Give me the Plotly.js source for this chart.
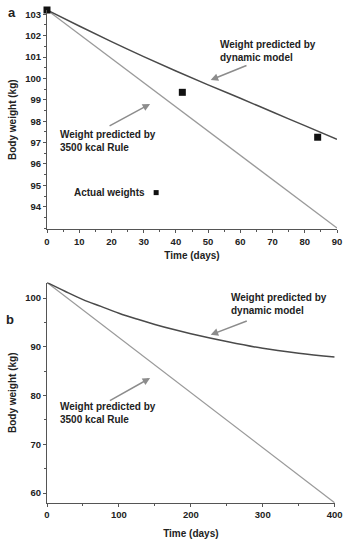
<!DOCTYPE html>
<html>
<head>
<meta charset="utf-8">
<script src="https://cdn.plot.ly/plotly-3.0.1.min.js"></script>
<style>html,body{margin:0;padding:0;background:#fff;}#chart{width:355px;height:543px;}</style>
</head>
<body>
<div id="chart"></div>
<script>
// Panel a (0-90 days)
const daysA = [0, 10, 20, 30, 40, 50, 60, 70, 80, 90];
const dynamicA = [103.2, 102.45, 101.72, 101.02, 100.35, 99.7, 99.07, 98.43, 97.79, 97.15];
const ruleDaysA = [0, 90];
const ruleA = [103.2, 93.0];
const actualDays = [0, 42, 84];
const actualWeights = [103.2, 99.35, 97.25];

// Panel b (0-400 days)
const daysB = [0, 25, 50, 75, 100, 125, 150, 175, 200, 250, 300, 350, 400];
const dynamicB = [103.2, 101.4, 99.7, 98.3, 96.9, 95.7, 94.6, 93.6, 92.7, 91.1, 89.7, 88.7, 87.9];
const ruleDaysB = [0, 400];
const ruleB = [103.2, 58.0];

const tickValsA = [94, 95, 96, 97, 98, 99, 100, 101, 102, 103];
const tickValsB = [60, 70, 80, 90, 100];

const FONT = 'Liberation Sans, Arial, sans-serif';
const TXT = '#222';
const DARK = '#4a4a4a';
const LIGHT = '#9a9a9a';
const ARROW = '#8c8c8c';

const traces = [
  {x: ruleDaysA, y: ruleA, mode: 'lines', line: {color: LIGHT, width: 1.3}, xaxis: 'x', yaxis: 'y', hoverinfo: 'skip'},
  {x: daysA, y: dynamicA, mode: 'lines', line: {color: DARK, width: 1.5, shape: 'spline'}, xaxis: 'x', yaxis: 'y', hoverinfo: 'skip'},
  {x: actualDays, y: actualWeights, mode: 'markers', marker: {symbol: 'square', color: '#111', size: 7}, xaxis: 'x', yaxis: 'y', cliponaxis: false},
  {x: ruleDaysB, y: ruleB, mode: 'lines', line: {color: LIGHT, width: 1.3}, xaxis: 'x2', yaxis: 'y2', hoverinfo: 'skip'},
  {x: daysB, y: dynamicB, mode: 'lines', line: {color: DARK, width: 1.5, shape: 'spline'}, xaxis: 'x2', yaxis: 'y2', hoverinfo: 'skip'}
];

const axisCommon = {
  showgrid: false, zeroline: false, showline: true, linecolor: '#555', linewidth: 1,
  ticks: 'outside', ticklen: 3, tickcolor: '#555', tickwidth: 1,
  tickfont: {family: FONT, size: 9.5, color: TXT, weight: 'bold'},
  fixedrange: true
};
const titleFont = {family: FONT, size: 10, color: TXT, weight: 'bold'};

const layout = {
  width: 355, height: 543,
  margin: {l: 46.7, r: 17.7, t: 10, b: 39.7},
  paper_bgcolor: '#fff', plot_bgcolor: '#fff',
  showlegend: false,
  font: {family: FONT, color: TXT},
  xaxis: Object.assign({}, axisCommon, {
    domain: [0, 1], range: [0, 90], dtick: 10, tick0: 0, anchor: 'y',
    minor: {dtick: 5, ticklen: 2, tickcolor: '#555', ticks: 'outside'},
    title: {text: 'Time (days)', font: titleFont, standoff: 6}
  }),
  yaxis: Object.assign({}, axisCommon, {
    domain: [0.555, 1], range: [92.94, 103.2], tickmode: 'array', tickvals: tickValsA, anchor: 'x',
    minor: {dtick: 0.5, tick0: 0, ticklen: 2, tickcolor: '#555', ticks: 'outside'},
    title: {text: 'Body weight (kg)', font: titleFont, standoff: 6}
  }),
  xaxis2: Object.assign({}, axisCommon, {
    domain: [0, 0.992], range: [0, 400], dtick: 100, tick0: 0, anchor: 'y2',
    minor: {dtick: 50, ticklen: 2, tickcolor: '#555', ticks: 'outside'},
    title: {text: 'Time (days)', font: titleFont, standoff: 10}
  }),
  yaxis2: Object.assign({}, axisCommon, {
    domain: [0, 0.4472], range: [57.95, 103.2], tickmode: 'array', tickvals: tickValsB, anchor: 'x2',
    minor: {dtick: 5, tick0: 0, ticklen: 2, tickcolor: '#555', ticks: 'outside'},
    title: {text: 'Body weight (kg)', font: titleFont, standoff: 6}
  }),
  annotations: [
    {xref: 'paper', yref: 'paper', x: -0.12, y: 0.994, text: 'a', showarrow: false, xanchor: 'center', yanchor: 'middle', font: {family: FONT, size: 13, color: TXT, weight: 'bold'}},
    {xref: 'paper', yref: 'paper', x: -0.128, y: 0.3716, text: 'b', showarrow: false, xanchor: 'center', yanchor: 'middle', font: {family: FONT, size: 13, color: TXT, weight: 'bold'}},
    // panel a labels
    {xref: 'paper', yref: 'paper', x: 0.5895, y: 0.9169, text: 'Weight predicted by<br>dynamic model', align: 'left', showarrow: false, xanchor: 'left', yanchor: 'middle', font: titleFont},
    {xref: 'paper', yref: 'paper', x: 0.5644, y: 0.8581, ax: 37.3, ay: -15, text: '', showarrow: true, arrowhead: 2, arrowsize: 1, arrowwidth: 1.5, arrowcolor: ARROW},
    {xref: 'paper', yref: 'paper', x: 0.0365, y: 0.7348, text: 'Weight predicted by<br>3500 kcal Rule', align: 'left', showarrow: false, xanchor: 'left', yanchor: 'middle', font: titleFont},
    {xref: 'paper', yref: 'paper', x: 0.3555, y: 0.8094, ax: -42, ay: 22.7, text: '', showarrow: true, arrowhead: 2, arrowsize: 1, arrowwidth: 1.5, arrowcolor: ARROW},
    {xref: 'paper', yref: 'paper', x: 0.3441, y: 0.6296, text: 'Actual weights', showarrow: false, xanchor: 'right', yanchor: 'middle', font: titleFont},
    // panel b labels
    {xref: 'paper', yref: 'paper', x: 0.6284, y: 0.4036, text: 'Weight predicted by<br>dynamic model', align: 'left', showarrow: false, xanchor: 'left', yanchor: 'middle', font: titleFont},
    {xref: 'paper', yref: 'paper', x: 0.5644, y: 0.3412, ax: 37.6, ay: -14.3, text: '', showarrow: true, arrowhead: 2, arrowsize: 1, arrowwidth: 1.5, arrowcolor: ARROW},
    {xref: 'paper', yref: 'paper', x: 0.0365, y: 0.1824, text: 'Weight predicted by<br>3500 kcal Rule', align: 'left', showarrow: false, xanchor: 'left', yanchor: 'middle', font: titleFont},
    {xref: 'paper', yref: 'paper', x: 0.3555, y: 0.2534, ax: -41.7, ay: 23.4, text: '', showarrow: true, arrowhead: 2, arrowsize: 1, arrowwidth: 1.5, arrowcolor: ARROW}
  ],
  shapes: [
    {type: 'rect', xref: 'paper', yref: 'paper', x0: 0.3764 - 0.0086, x1: 0.3764 + 0.0086, y0: 0.6296 - 0.0051, y1: 0.6296 + 0.0051, fillcolor: '#111', line: {width: 0}}
  ]
};

Plotly.newPlot('chart', traces, layout, {staticPlot: true, displayModeBar: false});
</script>
</body>
</html>
